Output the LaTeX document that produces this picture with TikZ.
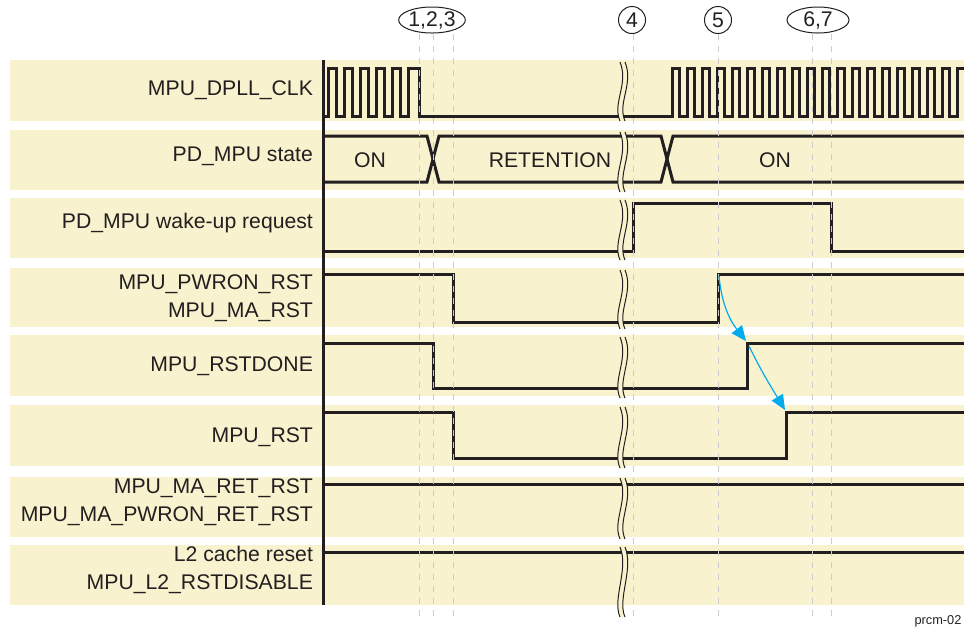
\documentclass[tikz,border=0pt]{standalone}
\usepackage{fontspec}
\setmainfont{Liberation Sans}
\usepackage{tikz}
\usetikzlibrary{shapes.geometric, arrows.meta, positioning, calc}
\definecolor{bandyellow}{RGB}{248,242,206}
\definecolor{linkblue}{RGB}{0,172,236}
\definecolor{inkgray}{RGB}{35,31,32}
\tikzstyle{cause} = [linkblue, line width=0.6pt, -{Triangle[length=7.5pt,width=6.5pt]}]

\begin{document}
\begin{tikzpicture}[
  x=0.5pt, y=-0.5pt,
  every node/.style={font=\fontsize{10.6}{14}\selectfont, text=inkgray},
  wave/.style={draw=inkgray, line width=1.5pt, line join=miter},
  brkline/.style={draw=inkgray, line width=0.5pt},
  guide/.style={gray!40, line width=0.5pt, dash pattern=on 3pt off 3pt},
  marker/.style={draw=inkgray, line width=0.5pt, inner sep=0pt},
  lbl/.style={anchor=east, align=right}
]
\useasboundingbox (0,0) rectangle (964,629);

% Row bands
\foreach \t/\b in {60/121, 130/190, 198/258, 268/327, 335/396, 405/466, 477/537, 545/605}
  \fill[bandyellow] (10,\t) rectangle (964,\b);

% Signal names
\node[lbl] (clk) at (320,90) {MPU\_DPLL\_CLK};
\node[lbl] (pdstate) at (320,156) {PD\_MPU state};
\node[lbl] (wakereq) at (320,223) {PD\_MPU wake-up request};
\node[lbl] (pwronrst) at (320,298) {MPU\_PWRON\_RST\\ MPU\_MA\_RST};
\node[lbl] (rstdone) at (320,366) {MPU\_RSTDONE};
\node[lbl] (mpurst) at (320,437) {MPU\_RST};
\node[lbl] (retrst) at (320,502) {MPU\_MA\_RET\_RST\\ MPU\_MA\_PWRON\_RET\_RST};
\node[lbl] (l2rst) at (320,570) {L2 cache reset\\ MPU\_L2\_RSTDISABLE};

% Waveforms
\draw[wave] (323,116) -- (328,116)
  \foreach \i in {1,...,5} { -- ++(0,-48) -- ++(8,0) -- ++(0,48) -- ++(8,0) }
  -- ++(0,-48) -- (419,68) -- (419,116) -- (672,116)
  \foreach \i in {1,...,19} { -- ++(0,-48) -- ++(7.5,0) -- ++(0,48) -- ++(7.5,0) }
  -- ++(0,-48) -- (964,68);
\draw[wave] (323,136) -- (427,136) -- (439,182) -- (661,182) -- (673,136) -- (964,136);
\draw[wave] (323,182) -- (427,182) -- (439,136) -- (661,136) -- (673,182) -- (964,182);
\draw[wave] (323,251) -- (633,251) -- (633,203) -- (831,203) -- (831,251) -- (964,251);
\draw[wave] (323,274) -- (453,274) -- (453,322) -- (718,322) -- (718,274) -- (964,274);
\draw[wave] (323,343) -- (433,343) -- (433,388) -- (747,388) -- (747,343) -- (964,343);
\draw[wave] (323,412) -- (453,412) -- (453,458) -- (786,458) -- (786,412) -- (964,412);
\draw[wave] (323,484) -- (964,484);
\draw[wave] (323,552) -- (964,552);

% State texts
\node (on1) at (370,160) {ON};
\node (retention) at (550,160) {RETENTION};
\node (on2) at (775,160) {ON};

% Time break
\foreach \t/\b in {62/121, 132/192, 200/260, 270/329, 337/398, 407/468, 478/539, 547/617} {
  \fill[bandyellow] (620,\t) .. controls +(9,22) and +(-8,-18) .. (620,\b)
    -- (625,\b) .. controls +(-8,-18) and +(9,22) .. (625,\t) -- cycle;
  \draw[brkline] (620,\t) .. controls +(9,22) and +(-8,-18) .. (620,\b);
  \draw[brkline] (625,\t) .. controls +(9,22) and +(-8,-18) .. (625,\b);
}

% Axis
\draw[inkgray, line width=1.5pt] (323,60) -- (323,605);

% Event markers
\node[marker, ellipse, minimum width=32pt, minimum height=13pt] (ev123) at (432,20) {1,2,3};
\node[marker, circle, minimum size=13.5pt] (ev4) at (632,20) {4};
\node[marker, circle, minimum size=13.5pt] (ev5) at (718,20) {5};
\node[marker, ellipse, minimum width=31pt, minimum height=13pt] (ev67) at (818,20) {6,7};
\foreach \x in {419, 433, 453, 633, 718, 812, 831}
  \draw[guide] (\x,34) -- (\x,618);

% Reset sequence
\coordinate (pwronup) at (719,276);
\coordinate (doneup) at (746,341);
\coordinate (donestart) at (749,346);
\coordinate (rstup) at (785,410);
\draw[cause] (pwronup) .. controls +(3,32) and +(-14,-18) .. (doneup);
\draw[cause] (donestart) .. controls +(12,25) and +(-12,-20) .. (rstup);

\node[font=\fontsize{6.4}{8}\selectfont] (figid) at (938,621) {prcm-02};

\end{tikzpicture}
\end{document}
